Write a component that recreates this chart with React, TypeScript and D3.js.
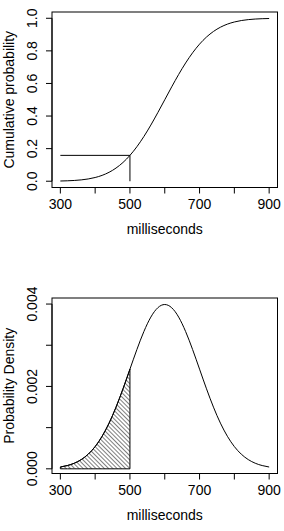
import * as d3 from 'd3'
import { useMemo } from 'react'

// reaction times in ms, mean 600 / sd 100
const ms = [300, 320, 340, 360, 380, 400, 420, 440, 460, 480, 500, 520, 540, 560, 580, 600,
  620, 640, 660, 680, 700, 720, 740, 760, 780, 800, 820, 840, 860, 880, 900]
const cumulative = [0.00135, 0.00256, 0.00466, 0.0082, 0.0139, 0.02275, 0.03593, 0.0548, 0.08076,
  0.11507, 0.15866, 0.21186, 0.27425, 0.34458, 0.42074, 0.5, 0.57926, 0.65542, 0.72575, 0.78814,
  0.84134, 0.88493, 0.91924, 0.9452, 0.96407, 0.97725, 0.9861, 0.9918, 0.99534, 0.99744, 0.99865]
const density = [0.0000443, 0.0000792, 0.000136, 0.000224, 0.000355, 0.00054, 0.00079, 0.001109,
  0.001497, 0.001942, 0.00242, 0.002897, 0.003332, 0.003683, 0.00391, 0.003989, 0.00391, 0.003683,
  0.003332, 0.002897, 0.00242, 0.001942, 0.001497, 0.001109, 0.00079, 0.00054, 0.000355, 0.000224,
  0.000136, 0.0000792, 0.0000443]

const cutoff = 500
const xTicks = [300, 400, 500, 600, 700, 800, 900]
const xTickLabels = ['300', '', '500', '', '700', '', '900']
const cdfTicks = [0, 0.2, 0.4, 0.6, 0.8, 1.0]
const cdfTickLabels = ['0.0', '0.2', '0.4', '0.6', '0.8', '1.0']
const pdfTicks = [0, 0.001, 0.002, 0.003, 0.004]
const pdfTickLabels = ['0.000', '', '0.002', '', '0.004']

const W = 284
const H = 531
const font = 'Liberation Sans, Arial, Helvetica, sans-serif'
const fs = 14

// R-style axis range: data range padded by 4% on each side
const padded = (vals: number[]): [number, number] => {
  const [lo, hi] = d3.extent(vals) as [number, number]
  const p = (hi - lo) * 0.04
  return [lo - p, hi + p]
}

type Box = { x0: number; x1: number; y0: number; y1: number }

const Panel = ({ box, ys, yTicks, yLabels, yTitle, shade, refLine }: {
  box: Box; ys: number[]; yTicks: number[]; yLabels: string[]; yTitle: string; shade?: boolean; refLine?: boolean
}) => {
  const x = d3.scaleLinear().domain(padded(ms)).range([box.x0, box.x1])
  const y = d3.scaleLinear().domain(padded(ys)).range([box.y1, box.y0])
  const pts = ms.map((m, i) => [m, ys[i]] as [number, number])

  const line = d3.line<[number, number]>().x(d => x(d[0])).y(d => y(d[1])).curve(d3.curveNatural)
  const left = pts.filter(d => d[0] <= cutoff)
  const area = d3.area<[number, number]>().x(d => x(d[0])).y0(y(0)).y1(d => y(d[1])).curve(d3.curveNatural)

  const atCut = ys[ms.indexOf(cutoff)]
  const midY = (box.y0 + box.y1) / 2

  return (
    <g>
      {shade && (
        <path d={area(left) ?? ''} fill="url(#hatch)" stroke="#000" strokeWidth={1} />
      )}
      <path d={line(pts) ?? ''} fill="none" stroke="#000" strokeWidth={1} />
      {refLine && (
        <g stroke="#000" strokeWidth={1}>
          <line x1={x(ms[0])} x2={x(cutoff)} y1={y(atCut)} y2={y(atCut)} />
          <line x1={x(cutoff)} x2={x(cutoff)} y1={y(atCut)} y2={y(0)} />
        </g>
      )}
      <rect x={box.x0} y={box.y0} width={box.x1 - box.x0} height={box.y1 - box.y0} fill="none" stroke="#000" strokeWidth={1} />

      {/* x axis */}
      <g stroke="#000" strokeWidth={1}>
        <line x1={x(xTicks[0])} x2={x(xTicks[xTicks.length - 1])} y1={box.y1} y2={box.y1} />
        {xTicks.map(t => <line key={t} x1={x(t)} x2={x(t)} y1={box.y1} y2={box.y1 + 6} />)}
      </g>
      {xTicks.map((t, i) => (
        <text key={t} x={x(t)} y={box.y1 + 21} textAnchor="middle" fontSize={fs} fontFamily={font}>{xTickLabels[i]}</text>
      ))}
      <text x={(box.x0 + box.x1) / 2} y={box.y1 + 46.5} textAnchor="middle" fontSize={fs} fontFamily={font}>milliseconds</text>

      {/* y axis */}
      <g stroke="#000" strokeWidth={1}>
        <line x1={box.x0} x2={box.x0} y1={y(yTicks[0])} y2={y(yTicks[yTicks.length - 1])} />
        {yTicks.map(t => <line key={t} x1={box.x0} x2={box.x0 - 6} y1={y(t)} y2={y(t)} />)}
      </g>
      {yTicks.map((t, i) => (
        <text key={t} transform={`translate(${box.x0 - 15.5},${y(t)}) rotate(-90)`} textAnchor="middle" fontSize={fs} fontFamily={font}>{yLabels[i]}</text>
      ))}
      <text transform={`translate(13.5,${midY}) rotate(-90)`} textAnchor="middle" fontSize={fs} fontFamily={font}>{yTitle}</text>
    </g>
  )
}

const App = () => {
  const top = useMemo(() => ({ x0: 52, x1: 277.5, y0: 12, y1: 187.5 }), [])
  const bottom = useMemo(() => ({ x0: 52, x1: 277.5, y0: 298, y1: 473.5 }), [])

  return (
    <svg width={W} height={H} style={{ position: 'absolute', left: 0, top: 0, background: '#fff' }}>
      <defs>
        <pattern id="hatch" patternUnits="userSpaceOnUse" width={3} height={10} patternTransform="rotate(-45)">
          <line x1={0} y1={0} x2={0} y2={10} stroke="#000" strokeWidth={1} />
        </pattern>
      </defs>
      <Panel box={top} ys={cumulative} yTicks={cdfTicks} yLabels={cdfTickLabels} yTitle="Cumulative probability" refLine />
      <Panel box={bottom} ys={density} yTicks={pdfTicks} yLabels={pdfTickLabels} yTitle="Probability Density" shade />
    </svg>
  )
}

export default App
